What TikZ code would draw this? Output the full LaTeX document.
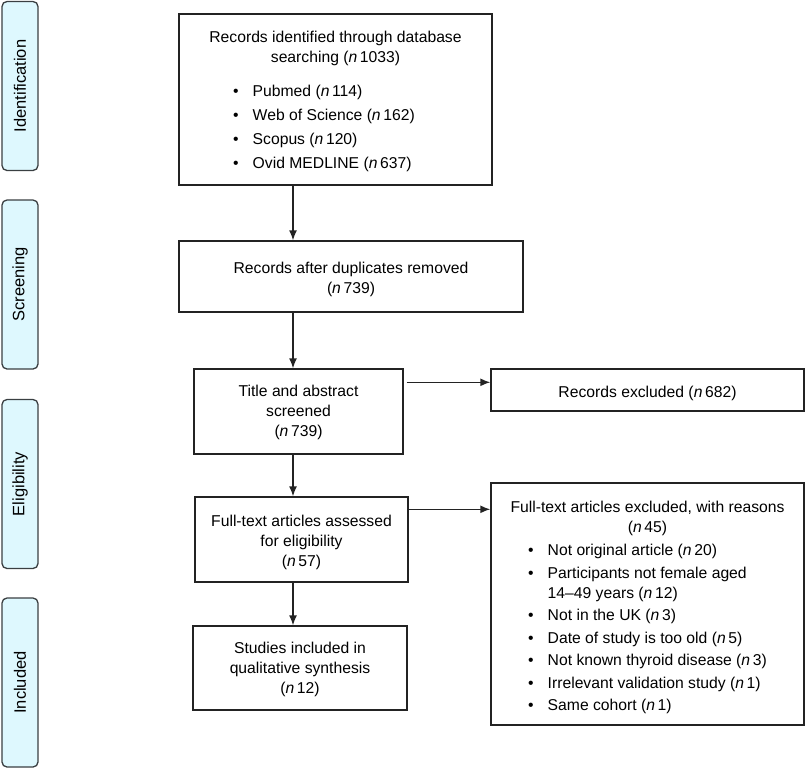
\documentclass[tikz,border=0pt]{standalone}
\usepackage{fontspec}
\setmainfont{Liberation Sans}
\usepackage{tikz}
\usetikzlibrary{arrows.meta, positioning, calc}
\definecolor{phase_blue}{HTML}{DEF8FE}
\definecolor{phase_line}{HTML}{3A3F42}
\definecolor{box_line}{HTML}{232323}
\newcommand{\boxfont}{\fontsize{15.7}{20}\selectfont}
\newcommand{\nn}[1]{(\textit{n}\,#1)}
\newcommand{\lift}[1]{\rule{0pt}{#1}}
\tikzset{
  phase/.style={draw=phase_line,line width=1.3pt,fill=phase_blue,rounded corners=5pt,rotate=90,minimum width=169pt,minimum height=36pt,inner sep=0pt,font=\fontsize{16.5}{20}\selectfont},
  stage/.style={draw=box_line,line width=1.4pt,fill=white,align=center,inner sep=0pt,font=\boxfont},
  flow/.style={draw=box_line,line width=1.4pt,-{Latex[length=10pt,width=8pt]}},
}

\begin{document}
\begin{tikzpicture}[x=1pt,y=1pt]
	    \useasboundingbox (0,0) rectangle (805,-769);
	    \node[phase] (identification) at (20,-86) {Identification};
	    \node[phase] (screening) at (20,-284.5) {Screening};
	    \node[phase] (eligibility) at (20,-484) {Eligibility};
	    \node[phase] (includedtab) at (20,-682.5) {Included};
	    \node[stage,minimum width=313pt,minimum height=171pt] (records) at (335.5,-99.5) {\lift{18.5pt}Records identified through database\\searching \nn{1033}\\[16pt]
	      \begin{tabular}{@{}l@{\hspace{14pt}}l@{}}
	        \textbullet & Pubmed \nn{114}\\[4pt]
	        \textbullet & Web of Science \nn{162}\\[4pt]
	        \textbullet & Scopus \nn{120}\\[4pt]
	        \textbullet & Ovid MEDLINE \nn{637}
	      \end{tabular}\kern23pt};
	    \node[stage,minimum width=344pt,minimum height=71pt] (dedup) at (351,-276.5) {\lift{16.5pt}Records after duplicates removed\\\nn{739}};
	    \node[stage,minimum width=209pt,minimum height=85pt] (screen) at (298.5,-411.5) {\lift{13.5pt}Title and abstract\\screened\\\nn{739}};
	    \node[stage,minimum width=313pt,minimum height=42pt] (excluded) at (647.5,-390) {\lift{17.5pt}Records excluded \nn{682}};
	    \node[stage,minimum width=213pt,minimum height=85pt] (fulltext) at (301.5,-539.5) {\lift{16.5pt}Full-text articles assessed\\for eligibility\\\nn{57}};
	    \node[stage,minimum width=313pt,minimum height=242pt] (reasons) at (647.5,-604) {\lift{21.5pt}Full-text articles excluded, with reasons\\\nn{45}\\[5pt]
	      \begin{tabular}{@{}l@{\hspace{14pt}}l@{}}
	        \textbullet & Not original article \nn{20}\\[2.5pt]
	        \textbullet & Participants not female aged\\
	                    & 14--49 years \nn{12}\\[2.5pt]
	        \textbullet & Not in the UK \nn{3}\\[2.5pt]
	        \textbullet & Date of study is too old \nn{5}\\[2.5pt]
	        \textbullet & Not known thyroid disease \nn{3}\\[2.5pt]
	        \textbullet & Irrelevant validation study \nn{1}\\[2.5pt]
	        \textbullet & Same cohort \nn{1}
	      \end{tabular}};
	    \node[stage,minimum width=214pt,minimum height=84pt] (included) at (300,-668) {\lift{14.5pt}Studies included in\\qualitative synthesis\\\nn{12}};
	    \coordinate (spine) at (293,0);
	    \draw[flow] (records.south -| spine) -- (dedup.north -| spine);
	    \draw[flow] (dedup.south -| spine) -- (screen.north -| spine);
	    \draw[flow] (screen.south -| spine) -- (fulltext.north -| spine);
	    \draw[flow] (fulltext.south -| spine) -- (included.north -| spine);
	    \draw[flow] ([xshift=3pt,yshift=-14pt]screen.north east) -- ([yshift=-14pt]screen.north east -| excluded.west);
	    \draw[flow] ([yshift=-13pt]fulltext.north east) -- ([yshift=-13pt]fulltext.north east -| reasons.west);
	\end{tikzpicture}
\end{document}
